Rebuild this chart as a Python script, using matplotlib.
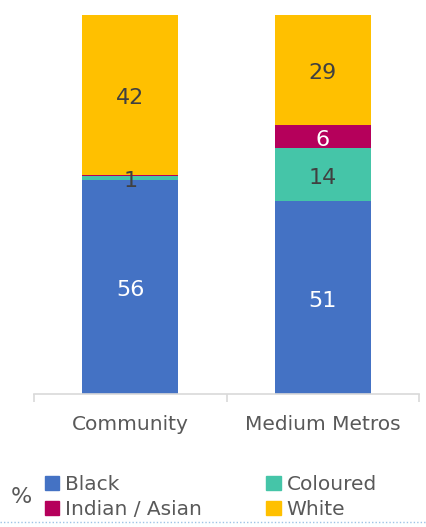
import matplotlib.pyplot as plt
from matplotlib.patches import Patch

categories = ["Community", "Medium Metros"]
series = ["Black", "Coloured", "Indian / Asian", "White"]
black = [56.4, 50.8]
coloured = [1.1, 14.0]
indian = [0.2, 6.1]
white = [42.3, 29.1]

colors = ["#4472c4", "#45c5a8", "#b5005b", "#ffc000"]
label_colors = ["white", "#404040", "white", "#404040"]
grey = "#595959"

plt.rcParams["font.family"] = ["DejaVu Sans"]

fig = plt.figure(figsize=(4.27, 5.27), dpi=100)
ax = fig.add_axes([34 / 427, 1 - 394 / 527, 385 / 427, 379 / 527])

x = list(range(len(categories)))
bottom = [0.0, 0.0]
for name, vals, col, lc in zip(series, [black, coloured, indian, white], colors, label_colors):
    ax.bar(x, vals, width=0.5, bottom=bottom, color=col, label=name)
    for i, v in enumerate(vals):
        if round(v) >= 1:
            # labels sit a little below the exact middle, like the original
            ax.text(x[i], bottom[i] + v / 2 - 0.8, f"{round(v)}", ha="center", va="center",
                    color=lc, fontsize=16)
    bottom = [b + v for b, v in zip(bottom, vals)]

ax.set_xlim(-0.5, 1.5)
ax.set_ylim(0, 100)
ax.set_yticks([])
for s in ["top", "left", "right"]:
    ax.spines[s].set_visible(False)
ax.spines["bottom"].set_color("#d9d9d9")
ax.spines["bottom"].set_linewidth(1.2)
ax.set_xticks(x)
ax.set_xticklabels(categories, fontsize=14.5, color=grey)
ax.tick_params(axis="x", length=0, pad=15)
ax.set_xticks([-0.5, 0.5, 1.5], minor=True)
ax.tick_params(axis="x", which="minor", length=6, color="#d9d9d9", width=1.2)

handles = [Patch(color=c) for c in colors]
order = [0, 2, 1, 3]
fig.legend([handles[i] for i in order], [series[i] for i in order], ncol=2,
           loc="lower left", bbox_to_anchor=(42 / 427, 1 - 522 / 527), frameon=False,
           fontsize=14.5, labelcolor=grey, handlelength=0.7, handleheight=0.7,
           handletextpad=0.3, columnspacing=3.2, labelspacing=0.3,
           borderaxespad=0, borderpad=0.15)
fig.text(11 / 427, 1 - 497 / 527, "%", fontsize=16, color=grey, va="center")

fig.add_artist(plt.Line2D([0, 1], [1 - 522 / 527] * 2, color="#9dc3e6",
                          linestyle=(0, (1, 1.5)), linewidth=1))

fig.savefig("out.png", dpi=100)
